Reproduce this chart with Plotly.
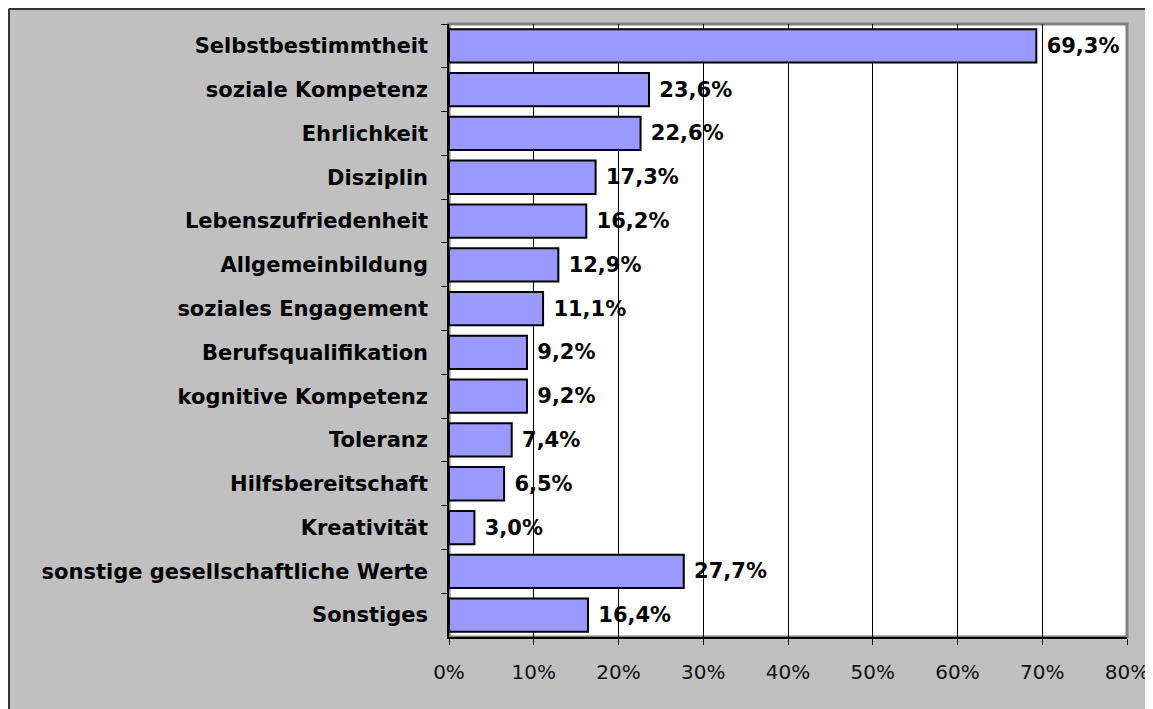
import plotly.graph_objects as go

categories = [
    "Selbstbestimmtheit",
    "soziale Kompetenz",
    "Ehrlichkeit",
    "Disziplin",
    "Lebenszufriedenheit",
    "Allgemeinbildung",
    "soziales Engagement",
    "Berufsqualifikation",
    "kognitive Kompetenz",
    "Toleranz",
    "Hilfsbereitschaft",
    "Kreativität",
    "sonstige gesellschaftliche Werte",
    "Sonstiges",
]
values = [69.3, 23.6, 22.6, 17.3, 16.2, 12.9, 11.1, 9.2, 9.2, 7.4, 6.5, 3.0, 27.7, 16.4]
x_ticks = [0, 10, 20, 30, 40, 50, 60, 70, 80]

labels = ["\u00a0" + f"{v:.1f}".replace(".", ",") + "%" for v in values]

W, H = 1153, 709
# plot area in paper pixels (page has 8px body margin)
L, R, T, B = 441, 1119, 16, 629

fig = go.Figure(
    go.Bar(
        x=values,
        y=categories,
        orientation="h",
        width=0.76,
        marker=dict(color="#9999ff", line=dict(color="black", width=2)),
        text=labels,
        textposition="outside",
        textfont=dict(family="Verdana, DejaVu Sans", size=21, color="black", weight="bold"),
        cliponaxis=False,
        hoverinfo="skip",
    )
)

def px2x(px):
    return (px - L) / (R - L)

def py2y(py):
    return (B - py) / (B - T)

shapes = [
    # plot area border (gray)
    dict(type="rect", xref="paper", yref="paper", x0=0, x1=1, y0=0, y1=1,
         line=dict(color="#808080", width=3), layer="below"),
    # outer frame lines (left and top)
    dict(type="line", xref="paper", yref="paper", x0=px2x(1), x1=px2x(W + 5), y0=py2y(1), y1=py2y(1),
         line=dict(color="#333333", width=2), layer="above"),
    dict(type="line", xref="paper", yref="paper", x0=px2x(1), x1=px2x(1), y0=py2y(1), y1=py2y(H + 5),
         line=dict(color="#333333", width=2), layer="above"),
]

fig.update_layout(
    width=W,
    height=H,
    margin=dict(l=L, r=W - R, t=T, b=H - B, autoexpand=False),
    paper_bgcolor="#c0c0c0",
    plot_bgcolor="white",
    showlegend=False,
    shapes=shapes,
    xaxis=dict(
        range=[0, 80],
        tickvals=x_ticks,
        ticktext=[f"{v}%" for v in x_ticks],
        showgrid=True,
        gridcolor="black",
        gridwidth=1,
        zeroline=False,
        showline=True,
        linecolor="black",
        linewidth=1.5,
        ticks="outside",
        ticklen=6,
        tickcolor="black",
        ticklabelstandoff=10,
        tickfont=dict(family="Tahoma, DejaVu Sans", size=20, color="#111111"),
        fixedrange=True,
    ),
    yaxis=dict(
        type="category",
        autorange="reversed",
        showgrid=False,
        zeroline=False,
        showline=True,
        linecolor="black",
        linewidth=1.5,
        ticks="outside",
        tickson="boundaries",
        ticklen=6,
        tickcolor="black",
        ticklabelstandoff=15,
        tickfont=dict(family="Verdana, DejaVu Sans", size=21, color="black", weight="bold"),
        fixedrange=True,
    ),
)

fig.write_html("out.html")
